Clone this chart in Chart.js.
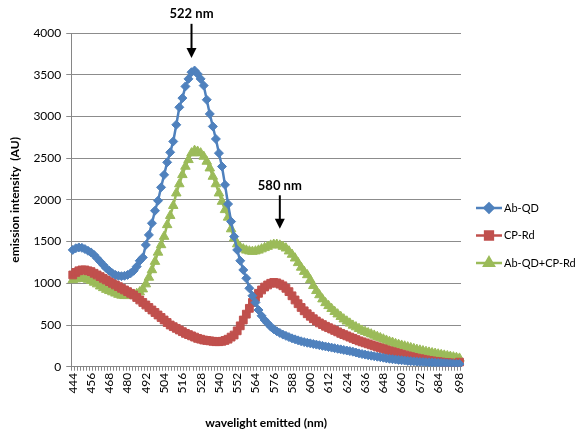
<!DOCTYPE html>
<html>
<head>
<meta charset="utf-8">
<script src="https://cdn.jsdelivr.net/npm/chart.js@4.4.1/dist/chart.umd.min.js"></script>
<style>
  body { margin: 0; background: #fff; }
  canvas { display: block; }
</style>
</head>
<body>
<canvas id="spectra" width="579" height="432"></canvas>
<script>
// wavelengths 444..698 nm, 2 nm step
const wavelengths = [];
for (let w = 444; w <= 698; w += 2) wavelengths.push(w);

const abQD = [1400,1420,1430,1425,1410,1390,1370,1340,1300,1260,1220,1180,1150,1120,1100,1090,1085,1090,1100,1120,1150,1200,1270,1310,1460,1580,1720,1870,
  1990,2150,2300,2450,2570,2700,2900,3110,3220,3360,3450,3530,3550,3510,3450,3370,3200,3030,2880,2730,2560,2400,2180,1950,1740,
  1560,1400,1270,1160,1060,940,850,770,680,610,560,520,480,450,425,
  405,385,370,355,340,328,316,305,295,287,280,272,265,258,250,243,236,229,222,215,208,201,194,187,180,170,160,152,145,138,132,126,120,114,108,100,95,90,86,82,78,74,70,67,64,61,58,56,54,52,50,48,46,44,42,40,38,36,34,32];

const cpRd = [1100,1130,1150,1160,1160,1150,1140,1120,1100,1080,1060,1040,1020,1000,980,960,940,920,900,880,860,830,800,770,740,710,680,650,
  620,590,560,530,500,480,460,440,420,400,385,370,355,340,330,320,315,310,305,300,300,305,315,330,355,
  380,430,490,560,630,700,770,830,880,920,955,980,1000,1010,1005,990,970,940,900,850,800,755,710,670,635,605,575,548,525,505,485,468,452,435,418,400,385,370,355,340,325,310,298,286,274,262,250,238,226,214,202,190,180,170,160,150,140,130,121,112,104,96,89,82,76,70,65,60,56,52,48,45,42,40,55];

const abQDcpRd = [1040,1050,1060,1060,1055,1045,1030,1010,990,965,945,925,910,895,880,865,855,850,850,855,860,875,895,930,990,1070,1160,1260,
  1370,1460,1560,1700,1810,1930,2080,2190,2300,2400,2480,2560,2590,2580,2560,2520,2460,2380,2280,2190,2080,1980,1880,1790,1650,
  1540,1470,1430,1410,1395,1385,1380,1385,1395,1410,1425,1440,1455,1465,1465,1455,1440,1420,1385,1345,1300,1245,1190,1140,1100,1040,970,910,860,810,765,730,695,660,630,600,570,545,520,495,475,455,435,420,405,390,375,360,345,330,315,300,290,275,265,255,245,235,225,215,205,197,188,180,172,165,158,150,143,136,129,122,115,108,100];

const seriesNames = ['Ab-QD', 'CP-Rd', 'Ab-QD+CP-Rd'];
const peakLabels = [
  { nm: 522, text: '522 nm', textAt: 4230, from: 4110, to: 3700 },
  { nm: 580, text: '580 nm', textAt: 2165, from: 2055, to: 1655 }
];

const FONT = 'Lato, "Liberation Sans", sans-serif';

function ds(label, data, color, style, r) {
  return {
    label: label, data: data,
    borderColor: color, backgroundColor: color,
    pointBackgroundColor: color, pointBorderColor: color,
    pointStyle: style, pointRadius: r, pointBorderWidth: 1,
    borderWidth: 2.5, tension: 0
  };
}

const arrowPlugin = {
  id: 'peaks',
  afterDatasetsDraw(chart) {
    const ctx = chart.ctx, x = chart.scales.x, y = chart.scales.y;
    ctx.save();
    ctx.fillStyle = '#000';
    ctx.strokeStyle = '#000';
    ctx.font = 'bold 13px ' + FONT;
    ctx.textAlign = 'center';
    ctx.textBaseline = 'middle';
    peakLabels.forEach(p => {
      const px = x.getPixelForValue(wavelengths.indexOf(p.nm));
      const yt = y.getPixelForValue(p.textAt);
      const y0 = y.getPixelForValue(p.from);
      const y1 = y.getPixelForValue(p.to);
      ctx.fillText(p.text, px, yt);
      ctx.lineWidth = 2;
      ctx.beginPath();
      ctx.moveTo(px, y0);
      ctx.lineTo(px, y1 - 8);
      ctx.stroke();
      ctx.beginPath();
      ctx.moveTo(px - 5, y1 - 10);
      ctx.lineTo(px + 5, y1 - 10);
      ctx.lineTo(px, y1);
      ctx.closePath();
      ctx.fill();
    });
    ctx.restore();
  },
  afterDraw(chart) {
    // legend with line + marker, Excel style
    const ctx = chart.ctx;
    ctx.save();
    ctx.font = '11px ' + FONT;
    ctx.textBaseline = 'middle';
    ctx.textAlign = 'left';
    chart.data.datasets.forEach((d, i) => {
      const ly = 208 + i * 27.5;
      ctx.strokeStyle = d.borderColor;
      ctx.lineWidth = 2.5;
      ctx.beginPath();
      ctx.moveTo(476, ly);
      ctx.lineTo(502, ly);
      ctx.stroke();
      ctx.fillStyle = d.borderColor;
      Chart.helpers.drawPoint(ctx, { pointStyle: d.pointStyle, radius: d.pointRadius, rotation: 0, borderWidth: 1 }, 489, ly);
      ctx.fill();
      ctx.fillStyle = '#000';
      ctx.fillText(d.label, 504, ly);
    });
    ctx.restore();
  }
};

new Chart(document.getElementById('spectra').getContext('2d'), {
  type: 'line',
  data: {
    labels: wavelengths,
    datasets: [
      ds(seriesNames[0], abQD, '#4F81BD', 'rectRot', 4.5),
      ds(seriesNames[1], cpRd, '#C0504D', 'rect', 5.5),
      ds(seriesNames[2], abQDcpRd, '#9BBB59', 'triangle', 5.5)
    ]
  },
  options: {
    responsive: false,
    animation: false,
    layout: { padding: { top: 33, right: 118, left: 8, bottom: 2 } },
    plugins: { legend: { display: false }, tooltip: { enabled: false } },
    scales: {
      x: {
        type: 'category',
        offset: true,
        grid: { drawOnChartArea: false, tickLength: 4, color: '#868686', offset: true },
        border: { color: '#868686' },
        ticks: {
          autoSkip: false, maxRotation: 90, minRotation: 90,
          color: '#000', font: { size: 12, family: FONT }, padding: 2,
          callback: function (v, i) {
            const n = wavelengths.length;
            return ((i % 6 === 0 && i <= 120) || i === n - 1) ? String(wavelengths[i]) : '';
          }
        },
        title: { display: true, text: 'wavelight emitted (nm)', color: '#000',
          font: { size: 12, weight: 'bold', family: FONT }, padding: { top: 20, bottom: 0 } }
      },
      y: {
        min: 0, max: 4000,
        ticks: { stepSize: 500, color: '#000', font: { size: 12, family: FONT }, padding: 5,
          callback: v => String(v) },
        grid: { color: '#8c8c8c', tickLength: 5 },
        border: { color: '#868686' },
        title: { display: true, text: 'emission intensity  (AU)', color: '#000',
          font: { size: 12, weight: 'bold', family: FONT }, padding: { top: 0, bottom: 6 } }
      }
    }
  },
  plugins: [arrowPlugin]
});
</script>
</body>
</html>
